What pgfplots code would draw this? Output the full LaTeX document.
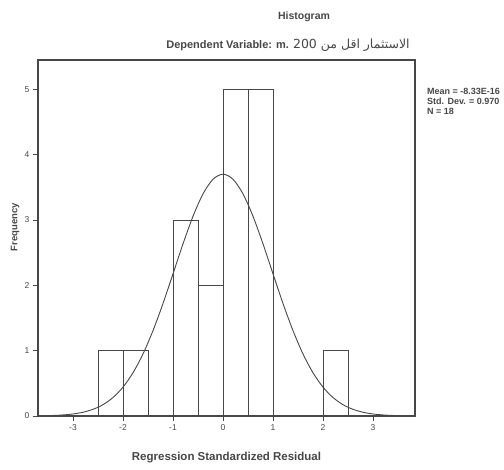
\documentclass[border=0pt]{standalone}
\usepackage{pgfplots}
\pgfplotsset{compat=1.18}
\usepackage{fontspec}
\setmainfont{Liberation Sans}
\newfontfamily\arabicfont[Script=Arabic]{DejaVu Sans}
\TeXXeTstate=1
\definecolor{ink}{gray}{0.28}
\begin{document}
\begin{tikzpicture}
\begin{axis}[
  at={(0,0)}, anchor=south west,
  width=377pt, height=356pt, scale only axis,
  xmin=-3.7, xmax=3.84, ymin=0, ymax=5.45,
  xtick={-3,-2,-1,0,1,2,3}, ytick={0,1,2,3,4,5},
  tick align=outside, xtick pos=bottom, ytick pos=left,
  major tick length=5pt,
  axis line style={draw=ink, line width=1.2pt},
  tick style={draw=ink, line width=0.8pt},
  ticklabel style={font=\fontsize{8.5}{10}\selectfont, text=ink},
  /pgf/number format/assume math mode=true,
  xlabel={Regression Standardized Residual},
  ylabel={Frequency},
  xlabel style={at={(axis description cs:0.5,0)}, anchor=center, yshift=-42pt,
                font=\fontsize{11.5}{13}\selectfont\bfseries, text=ink},
  ylabel style={at={(axis description cs:0,0.53)}, anchor=center, yshift=23pt,
                font=\fontsize{9.5}{11}\selectfont\bfseries, text=ink},
]
\addplot[ybar interval, draw=ink, line width=0.8pt, fill=none]
  coordinates {(-2.5,1) (-2,1) (-1.5,0) (-1,3) (-0.5,2) (0,5) (0.5,5) (1,0) (1.5,0) (2,1) (2.5,1)};
\addplot[smooth, draw=ink, line width=0.9pt, no marks] coordinates {
  (-3.6,0.0038) (-3.4,0.0080) (-3.2,0.0160) (-3.0,0.0310) (-2.8,0.0574)
  (-2.6,0.102) (-2.4,0.173) (-2.2,0.283) (-2.0,0.442) (-1.8,0.662)
  (-1.6,0.950) (-1.4,1.307) (-1.2,1.722) (-1.0,2.176) (-0.8,2.635)
  (-0.6,3.057) (-0.4,3.400) (-0.2,3.624) (0,3.702) (0.2,3.624)
  (0.4,3.400) (0.6,3.057) (0.8,2.635) (1.0,2.176) (1.2,1.722)
  (1.4,1.307) (1.6,0.950) (1.8,0.662) (2.0,0.442) (2.2,0.283)
  (2.4,0.173) (2.6,0.102) (2.8,0.0574) (3.0,0.0310) (3.2,0.0160)
  (3.4,0.0080) (3.6,0.0038)};
\end{axis}
\node[font=\fontsize{10.5}{12}\selectfont\bfseries, text=ink] at (266pt,399pt) {Histogram};
\node[font=\fontsize{11}{13}\selectfont\bfseries, text=ink] at (250pt,371pt)
  {Dependent Variable: m. {\arabicfont\mdseries\fontsize{12.5}{15}\selectfont\beginR الاستثمار اقل من 200\endR}};
\node[anchor=north west, align=left, inner sep=0pt, font=\fontsize{9}{10}\selectfont\bfseries, text=ink]
  at (389pt,328pt) {Mean = -8.33E-16\\Std. Dev. = 0.970\\N = 18};
\pgfresetboundingbox
\useasboundingbox (-38pt,-54pt) rectangle (466pt,416pt);
\end{tikzpicture}
\end{document}
